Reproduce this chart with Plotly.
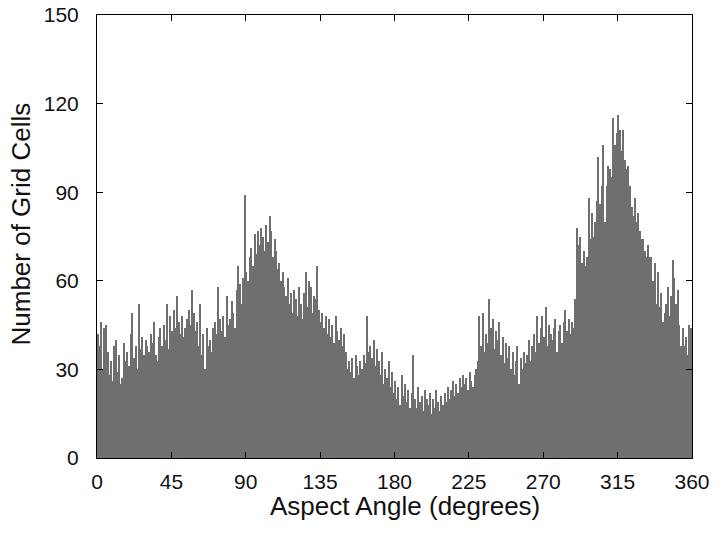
import plotly.graph_objects as go

# aspect angle bins (degrees), one bin per degree
angles = list(range(360))

# number of grid cells per 1-degree bin
counts = [
    42, 38, 46, 30, 44, 45, 36, 28, 33, 26,
    38, 40, 29, 35, 25, 27, 39, 33, 36, 31,
    42, 49, 34, 38, 30, 52, 37, 41, 35, 40,
    38, 36, 42, 39, 46, 35, 33, 41, 44, 38,
    45, 40, 52, 37, 48, 43, 50, 44, 55, 46,
    42, 48, 41, 44, 47, 50, 45, 57, 49, 43,
    46, 38, 52, 35, 42, 30, 44, 38, 40, 36,
    44, 46, 42, 58, 47, 43, 48, 41, 55, 45,
    47, 53, 49, 44, 57, 65, 59, 52, 61, 89,
    63, 60, 68, 71, 65, 76, 69, 77, 72, 78,
    75, 70, 79, 73, 82, 77, 68, 74, 70, 64,
    66, 60, 63, 58, 55, 61, 52, 56, 49, 57,
    54, 48, 58, 52, 47, 56, 63, 51, 60, 58,
    49, 55, 54, 65, 50, 46, 49, 44, 48, 42,
    47, 41, 45, 39, 48, 43, 40, 44, 38, 42,
    36, 30, 33, 29, 34, 27, 35, 31, 28, 33,
    30, 35, 32, 48, 36, 38, 34, 40, 31, 37,
    33, 28, 36, 25, 30, 27, 33, 24, 29, 22,
    26, 20, 24, 18, 28, 21, 25, 19, 23, 17,
    22, 35, 20, 17, 24, 19, 21, 16, 23, 20,
    18, 22, 15, 20, 17, 23, 19, 16, 21, 18,
    22, 19, 24, 20, 23, 26, 21, 25, 22, 27,
    24, 28, 25, 27, 23, 29, 26, 24, 28, 30,
    33, 48, 38, 49, 36, 42, 39, 54, 44, 47,
    37, 43, 40, 46, 35, 41, 32, 39, 34, 38,
    30, 36, 28, 33, 38, 25, 34, 30, 36, 32,
    35, 40, 33, 38, 42, 36, 48, 39, 44, 48,
    41, 51, 38, 45, 42, 40, 44, 47, 36, 43,
    45, 39, 46, 50, 43, 47, 42, 46, 44, 54,
    78, 72, 75, 66, 70, 65, 68, 88, 74, 83,
    75, 80, 87, 102, 86, 92, 106, 80, 92, 99,
    98, 95, 115, 106, 110, 116, 111, 104, 111, 101,
    98, 99, 92, 85, 82, 88, 80, 83, 77, 74,
    74, 70, 68, 72, 68, 68, 60, 66, 52, 63,
    51, 56, 46, 49, 52, 58, 48, 55, 67, 61,
    52, 57, 45, 38, 44, 38, 41, 35, 45, 44,
]

x_ticks = [0, 45, 90, 135, 180, 225, 270, 315, 360]
y_ticks = [0, 30, 60, 90, 120, 150]

font = "Liberation Sans, Arial, sans-serif"

fig = go.Figure()
fig.add_trace(
    go.Bar(
        x=angles,
        y=counts,
        offset=0.1,
        width=0.8,
        marker=dict(color="#6f6f6f", line=dict(width=0)),
    )
)

axis_common = dict(
    showline=True,
    linecolor="black",
    linewidth=1,
    mirror="ticks",
    ticks="inside",
    ticklen=6,
    tickcolor="black",
    showgrid=False,
    zeroline=False,
    automargin=False,
    tickfont=dict(family=font, size=21, color="#111"),
)

fig.update_xaxes(range=[0, 360], tickvals=x_ticks, ticklabelstandoff=5, **axis_common)
fig.update_yaxes(range=[0, 150], tickvals=y_ticks, ticklabelstandoff=13, **axis_common)

# axis titles placed as annotations for exact positioning
fig.add_annotation(
    text="Aspect Angle (degrees)",
    xref="paper", yref="paper", x=0.5, y=0,
    xanchor="center", yanchor="middle", xshift=10, yshift=-48,
    showarrow=False, font=dict(family=font, size=26, color="#111"),
)
fig.add_annotation(
    text="Number of Grid Cells",
    xref="paper", yref="paper", x=0, y=0.5,
    xanchor="center", yanchor="middle", xshift=-77, yshift=12,
    textangle=-90,
    showarrow=False, font=dict(family=font, size=26, color="#111"),
)

fig.update_layout(
    width=719,
    height=533,
    margin=dict(l=97, r=27, t=15, b=75),
    plot_bgcolor="white",
    paper_bgcolor="white",
    showlegend=False,
    bargap=0,
)

# drop the default page margin so the figure sits at the window's corner
fig.write_html(
    "out.html",
    config={"displayModeBar": False},
    post_script="document.body.style.margin = '0px';",
)
